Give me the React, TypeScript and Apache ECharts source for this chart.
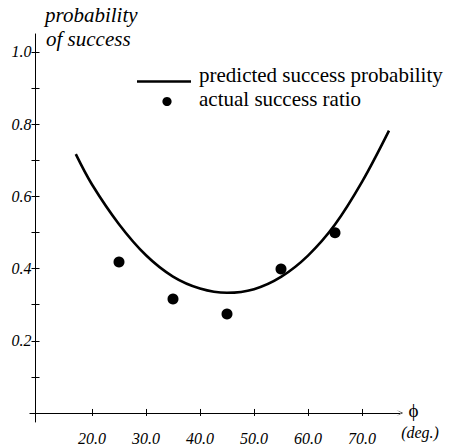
import React, { useEffect, useRef } from "react";
import * as echarts from "echarts";

// predicted success probability (curve), angle in degrees
const curveAngles = [17, 20, 25, 30, 35, 40, 45, 50, 55, 60, 65, 70, 75];
const predictedProb = [0.717, 0.633, 0.523, 0.437, 0.378, 0.345, 0.333, 0.343, 0.377, 0.436, 0.522, 0.64, 0.782];

// actual success ratio (dots)
const sampleAngles = [25, 35, 45, 55, 65];
const actualRatio = [0.418, 0.316, 0.274, 0.399, 0.499];

// ticks
const xTicks = [20, 30, 40, 50, 60, 70];
const yLabelTicks = [0.2, 0.4, 0.6, 0.8, 1.0];
const yAllTicks = [0.1, 0.2, 0.3, 0.4, 0.5, 0.6, 0.7, 0.8, 0.9, 1.0];

const seriesNames = ["predicted success probability", "actual success ratio"];

const SERIF = "Liberation Serif";

export default function App() {
  const ref = useRef<HTMLDivElement>(null);

  useEffect(() => {
    if (!ref.current) return;
    const chart = echarts.init(ref.current, undefined, { renderer: "svg" });

    const xMin = 8.5;
    const xMax = 77;
    const yMin = -0.025;
    const yMax = 1.05;
    const black = "#000";

    const labelStyle = {
      fontFamily: SERIF,
      fontStyle: "italic" as const,
      fontSize: 16,
      color: "#000",
    };

    const baseX = {
      type: "value" as const,
      min: xMin,
      max: xMax,
      position: "bottom" as const,
      splitLine: { show: false },
    };
    const baseY = {
      type: "value" as const,
      min: yMin,
      max: yMax,
      position: "left" as const,
      offset: -5.6,
      splitLine: { show: false },
    };

    const arrow = "path://M0,11 L5,0 L10,11 L5,2.5 Z";

    const bigText = (text: string, x: number, y: number, italic: boolean) => ({
      type: "text",
      x,
      y,
      style: {
        text,
        fontFamily: SERIF,
        fontStyle: italic ? "italic" : "normal",
        fontSize: 21,
        lineHeight: 20,
        fill: "#000",
        verticalAlign: "middle",
      },
    });

    chart.setOption({
      animation: false,
      backgroundColor: "#fff",
      grid: { left: 29.9, right: 60.2, top: 33.95, bottom: 25, containLabel: false },
      xAxis: [
        {
          ...baseX,
          axisLine: {
            show: true,
            onZero: true,
            lineStyle: { color: black, width: 1 },
            symbol: ["none", arrow],
            symbolSize: [6, 11],
          },
          axisTick: {
            show: true,
            inside: true,
            length: 4,
            customValues: xTicks,
            lineStyle: { color: black, width: 1 },
          },
          axisLabel: {
            ...labelStyle,
            customValues: xTicks,
            margin: 8,
            formatter: (v: number) => v.toFixed(1),
          },
        },
        {
          ...baseX,
          axisLine: { show: false, onZero: true },
          axisTick: {
            show: true,
            inside: false,
            length: 3,
            customValues: xTicks,
            lineStyle: { color: black, width: 1 },
          },
          axisLabel: { show: false },
        },
      ],
      yAxis: [
        {
          ...baseY,
          axisLine: { show: true, onZero: false, lineStyle: { color: black, width: 1 } },
          axisTick: {
            show: true,
            inside: true,
            length: 4,
            customValues: yAllTicks,
            lineStyle: { color: black, width: 1 },
          },
          axisLabel: {
            ...labelStyle,
            customValues: yLabelTicks,
            margin: 4,
            formatter: (v: number) => v.toFixed(1),
          },
        },
        {
          ...baseY,
          axisLine: { show: false, onZero: false },
          axisTick: {
            show: true,
            inside: false,
            length: 4,
            customValues: yAllTicks,
            lineStyle: { color: black, width: 1 },
          },
          axisLabel: { show: false },
        },
      ],
      series: [
        {
          name: seriesNames[0],
          type: "line",
          xAxisIndex: 0,
          yAxisIndex: 0,
          data: curveAngles.map((a, i) => [a, predictedProb[i]]),
          smooth: 0.35,
          symbol: "none",
          showSymbol: false,
          lineStyle: { color: black, width: 2.6 },
          itemStyle: { color: black },
        },
        {
          name: seriesNames[1],
          type: "scatter",
          xAxisIndex: 0,
          yAxisIndex: 0,
          data: sampleAngles.map((a, i) => [a, actualRatio[i]]),
          symbol: "circle",
          symbolSize: 11,
          itemStyle: { color: black, opacity: 1 },
        },
      ],
      graphic: [
        // legend
        {
          type: "line",
          shape: { x1: 137, y1: 81.5, x2: 191, y2: 81.5 },
          style: { stroke: black, lineWidth: 2.6 },
        },
        {
          type: "circle",
          shape: { cx: 167, cy: 101.5, r: 4.6 },
          style: { fill: black },
        },
        bigText(seriesNames[0], 199, 75, false),
        bigText(seriesNames[1], 199, 99, false),
        // y axis title
        bigText("probability", 45, 15, true),
        bigText("of success", 46, 39, true),
        // x axis title
        {
          type: "text",
          x: 413.5,
          y: 410,
          style: {
            text: "\u03D5",
            fontFamily: SERIF,
            fontSize: 19,
            fill: "#000",
            align: "center",
            verticalAlign: "middle",
          },
        },
        {
          type: "text",
          x: 420,
          y: 432,
          style: {
            text: "(deg.)",
            fontFamily: SERIF,
            fontStyle: "italic",
            fontSize: 16,
            fill: "#000",
            align: "center",
            verticalAlign: "middle",
          },
        },
      ],
    });

    return () => chart.dispose();
  }, []);

  return (
    <div
      ref={ref}
      style={{ position: "fixed", left: 0, top: 0, width: 460, height: 447 }}
    />
  );
}
